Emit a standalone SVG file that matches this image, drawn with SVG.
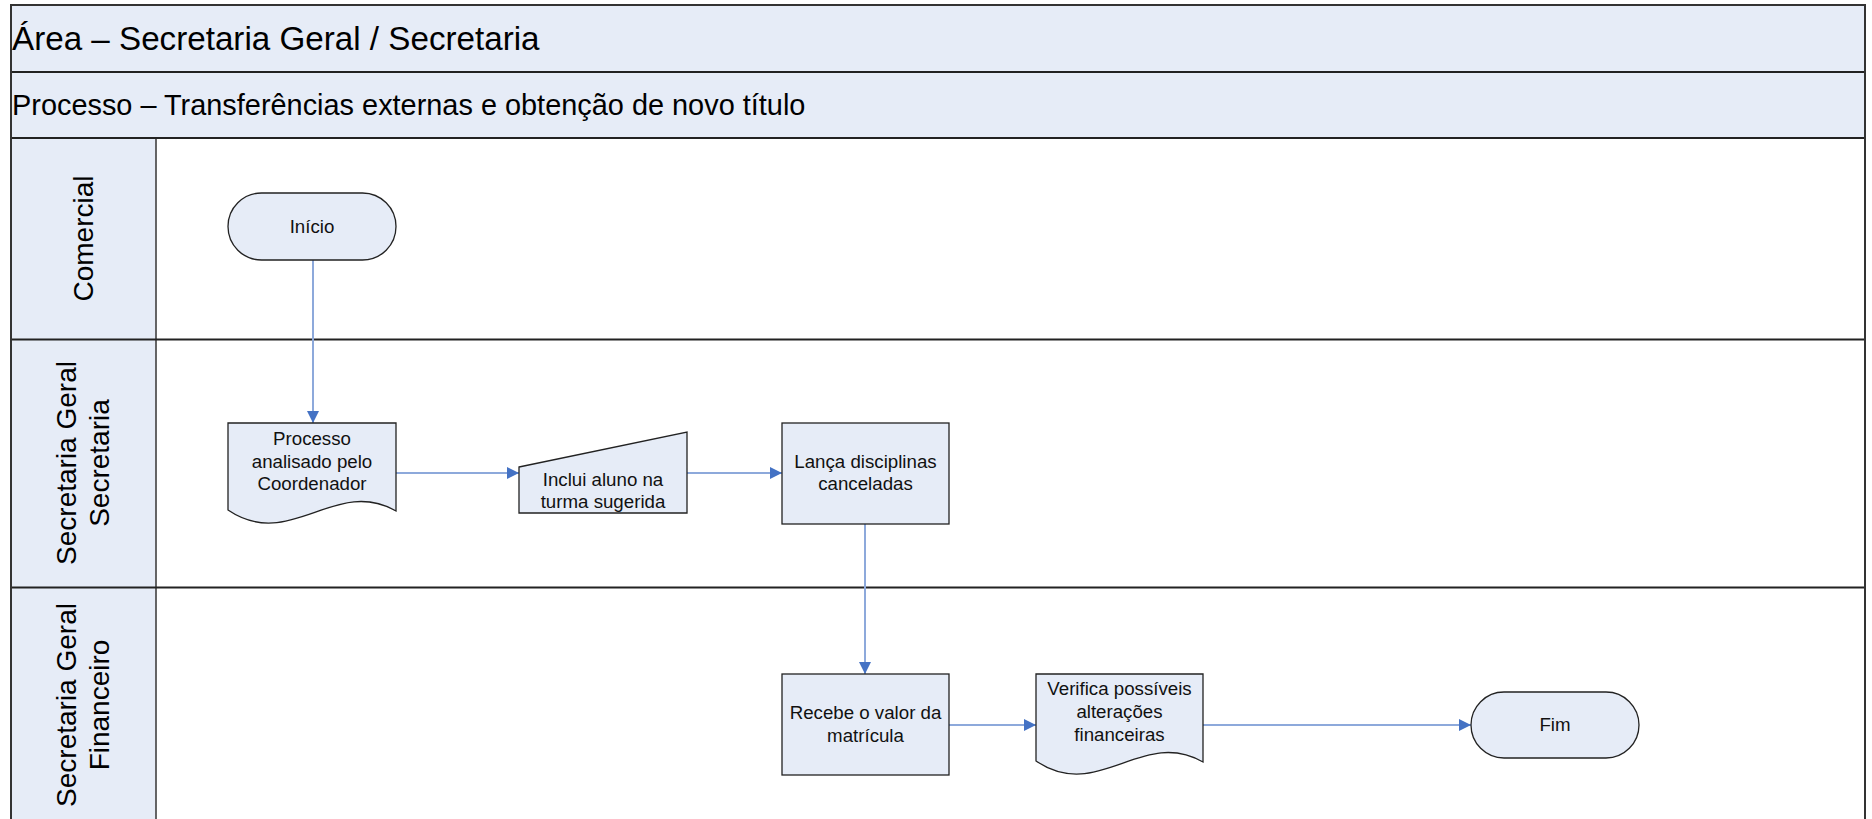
<svg xmlns="http://www.w3.org/2000/svg" width="1872" height="819" viewBox="0 0 1872 819">
<style>
.hdr{fill:#E6ECF7;stroke:none}
.lbl{fill:#E6ECF7;stroke:none}
.node{fill:#E6ECF7;stroke:#222;stroke-width:1.3}
.t{font-family:"Liberation Sans",Arial,sans-serif;fill:#000}
.nt{font-family:"Liberation Sans",Arial,sans-serif;font-size:18.7px;fill:#111;text-anchor:middle}
.lane{font-family:"Liberation Sans",Arial,sans-serif;font-size:28px;fill:#000;text-anchor:middle}
.sep{stroke:#222;stroke-width:1.8;fill:none}
.conn{stroke:#8DA9DB;stroke-width:2;fill:none;marker-end:url(#ah)}
</style>
<defs>
<marker id="ah" markerUnits="userSpaceOnUse" markerWidth="13" markerHeight="13" refX="12" refY="6.5" orient="auto" viewBox="0 0 13 13">
<path d="M0,0.5 L12,6.5 L0,12.5 z" fill="#4472C4"/>
</marker>
</defs>
<rect x="0" y="0" width="1872" height="819" fill="#FFFFFF"/>
<g id="frame">
<rect class="hdr" x="11" y="5" width="1854" height="133"/>
<rect class="lbl" x="11" y="138" width="145" height="690"/>
<line x1="156" y1="138" x2="156" y2="819" stroke="#555" stroke-width="1.8"/>
<line class="sep" x1="11" y1="72" x2="1865" y2="72"/>
<line class="sep" x1="11" y1="138" x2="1865" y2="138"/>
<line class="sep" x1="11" y1="339.5" x2="1865" y2="339.5"/>
<line class="sep" x1="11" y1="587.5" x2="1865" y2="587.5"/>
<path d="M11,819 L11,5 L1865,5 L1865,819" stroke="#333" stroke-width="2" fill="none"/>
<text class="t" x="12" y="50" font-size="33.2">Área – Secretaria Geral / Secretaria</text>
<text class="t" x="12" y="115" font-size="28.9">Processo – Transferências externas e obtenção de novo título</text>
</g>
<g id="lane-comercial">
<text class="lane" transform="translate(93,238.5) rotate(-90)">Comercial</text>
</g>
<g id="lane-secretaria">
<text class="lane" transform="translate(76,463) rotate(-90)">Secretaria Geral</text>
<text class="lane" transform="translate(109,463) rotate(-90)">Secretaria</text>
</g>
<g id="lane-financeiro">
<text class="lane" transform="translate(76,705) rotate(-90)">Secretaria Geral</text>
<text class="lane" transform="translate(109,705) rotate(-90)">Financeiro</text>
</g>
<g id="connectors">
<line class="conn" x1="313" y1="260" x2="313" y2="423"/>
<line class="conn" x1="396" y1="473" x2="519" y2="473"/>
<line class="conn" x1="687" y1="473" x2="782" y2="473"/>
<line class="conn" x1="865" y1="524" x2="865" y2="674"/>
<line class="conn" x1="949" y1="725" x2="1036" y2="725"/>
<line class="conn" x1="1203" y1="725" x2="1471" y2="725"/>
</g>
<g id="inicio">
<rect class="node" x="228" y="193" width="168" height="67" rx="33.5" ry="33.5"/>
<text class="nt" x="312" y="233">Início</text>
</g>
<g id="processo">
<path class="node" d="M228,423 L396,423 L396,511 C335,476 290,552 228,510 Z"/>
<text class="nt" x="312" y="445">Processo</text>
<text class="nt" x="312" y="468">analisado pelo</text>
<text class="nt" x="312" y="490">Coordenador</text>
</g>
<g id="inclui">
<path class="node" d="M519,467 L687,432 L687,513 L519,513 Z"/>
<text class="nt" x="603" y="486">Inclui aluno na</text>
<text class="nt" x="603" y="508">turma sugerida</text>
</g>
<g id="lanca">
<rect class="node" x="782" y="423" width="167" height="101"/>
<text class="nt" x="865.5" y="468">Lança disciplinas</text>
<text class="nt" x="865.5" y="490">canceladas</text>
</g>
<g id="recebe">
<rect class="node" x="782" y="674" width="167" height="101"/>
<text class="nt" x="865.5" y="719">Recebe o valor da</text>
<text class="nt" x="865.5" y="742">matrícula</text>
</g>
<g id="verifica">
<path class="node" d="M1036,674 L1203,674 L1203,762 C1142,727 1098,803 1036,761 Z"/>
<text class="nt" x="1119.5" y="695">Verifica possíveis</text>
<text class="nt" x="1119.5" y="718">alterações</text>
<text class="nt" x="1119.5" y="741">financeiras</text>
</g>
<g id="fim">
<rect class="node" x="1471" y="692" width="168" height="66" rx="33" ry="33"/>
<text class="nt" x="1555" y="731">Fim</text>
</g>
</svg>
